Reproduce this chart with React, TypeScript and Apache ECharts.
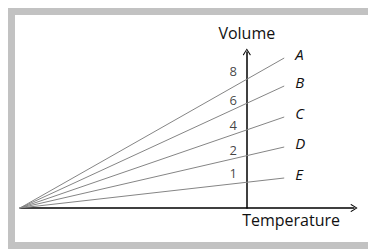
import React, { useEffect, useRef } from "react";
import * as echarts from "echarts";

// Data
const lineNames = ["A", "B", "C", "D", "E"];
const absoluteZero = -273;
const endTemperature = 45;
const endVolumes = [15.0, 12.2, 9.1, 6.1, 3.0];
const tickLabels = ["8", "6", "4", "2", "1"];
const tickLabelTemperature = -16.5;
const tickLabelVolumes = [13.7, 10.8, 8.3, 5.8, 3.5];
const xAxisName = "Temperature";
const yAxisName = "Volume";

const FONT = "Open Sans";
const ARROW = "path://M5,0 L10,8 L9,9 L5,2 L1,9 L0,8 Z";

export default function App() {
  const ref = useRef<HTMLDivElement>(null);
  useEffect(() => {
    if (!ref.current) return;
    const chart = echarts.init(ref.current, undefined, { renderer: "svg" });
    const lineSeries = lineNames.map((name, i) => ({
      type: "line",
      name,
      data: [
        [absoluteZero, 0],
        [endTemperature, endVolumes[i]],
      ],
      symbol: "none",
      lineStyle: { color: "#858585", width: 1 },
      endLabel: {
        show: true,
        formatter: "{a}",
        distance: 11,
        offset: [0, -4],
        fontFamily: FONT,
        fontStyle: "italic",
        fontSize: 15,
        color: "#111",
      },
      z: 2,
    }));
    chart.setOption({
      animation: false,
      grid: { left: 20, right: 14, top: 52, bottom: 41 },
      xAxis: {
        type: "value",
        min: -273,
        max: 129,
        name: xAxisName,
        nameLocation: "end",
        nameGap: -14,
        nameTextStyle: {
          align: "right",
          verticalAlign: "top",
          padding: [4, 0, 0, 0],
          fontFamily: FONT,
          fontSize: 16,
          color: "#111",
        },
        axisLine: {
          show: true,
          onZero: false,
          symbol: ["none", ARROW],
          symbolSize: [8, 8],
          lineStyle: { color: "#000", width: 1.5 },
        },
        axisTick: { show: false },
        axisLabel: { show: false },
        splitLine: { show: false },
      },
      yAxis: {
        type: "value",
        min: 0,
        max: 15.6,
        name: yAxisName,
        nameLocation: "end",
        nameGap: 11,
        nameTextStyle: { fontFamily: FONT, fontSize: 16, color: "#111" },
        axisLine: {
          show: true,
          onZero: true,
          symbol: ["none", ARROW],
          symbolSize: [8, 8],
          lineStyle: { color: "#000", width: 1.5 },
        },
        axisTick: { show: false },
        axisLabel: { show: false },
        splitLine: { show: false },
      },
      series: [
        ...lineSeries,
        {
          type: "scatter",
          symbolSize: 0,
          data: tickLabels.map((t, i) => ({
            value: [tickLabelTemperature, tickLabelVolumes[i]],
            label: { formatter: t },
          })),
          label: {
            show: true,
            position: "inside",
            fontFamily: FONT,
            fontSize: 13,
            color: "#111",
          },
          silent: true,
        },
      ],
    });
    return () => chart.dispose();
  }, []);
  return (
    <div>
      <div
        style={{
          position: "fixed",
          left: 8,
          top: 8,
          width: 368,
          height: 241,
          boxSizing: "border-box",
          borderLeft: "7px solid #c2c2c2",
          borderTop: "7px solid #c2c2c2",
          borderBottom: "7px solid #c2c2c2",
          background: "#fff",
        }}
      />
      <div
        ref={ref}
        style={{ position: "fixed", left: 0, top: 0, width: 368, height: 249 }}
      />
    </div>
  );
}
